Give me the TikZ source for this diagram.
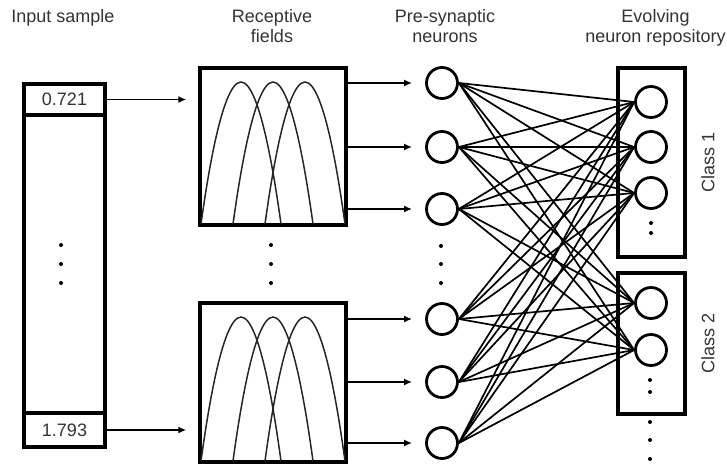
\documentclass[tikz,border=0pt]{standalone}
\usepackage{fontspec}
\setmainfont{Liberation Sans}
\usetikzlibrary{arrows.meta}
\begin{document}
\begin{tikzpicture}[x=1pt,y=-1pt,
  box/.style={draw, line width=3.3pt, rectangle, inner sep=0pt},
  neuron/.style={circle, draw, line width=2.8pt, minimum size=31pt, inner sep=0pt},
  conn/.style={line width=1.7pt},
  arr/.style={line width=1.7pt, -{Latex[length=8pt,width=7pt]}},
  curve/.style={line width=1.5pt, black!85},
  lbl/.style={font=\fontsize{18}{20}\selectfont, text=black!80, align=center, inner sep=0pt},
  num/.style={font=\fontsize{18}{20}\selectfont, text=black!80},
  dotn/.style={circle, fill=black, inner sep=0pt, minimum size=4pt}]
\useasboundingbox (0,0) rectangle (727,464);

% headers
\node[lbl, anchor=north] (h1) at (63,9) {Input sample};
\node[lbl, anchor=north] (h2) at (272,9) {Receptive\\fields};
\node[lbl, anchor=north] (h3) at (445,9) {Pre-synaptic\\neurons};
\node[lbl, anchor=north] (h4) at (655.5,9) {Evolving\\neuron repository};

% input sample
\node[box, minimum width=81pt, minimum height=363pt] (inbox) at (64.5,265.5) {};
\node[box, num, minimum width=81pt, minimum height=31pt] (c1) at (64.5,99.5) {0.721};
\node[box, num, minimum width=81pt, minimum height=34pt] (c2) at (64.5,430) {1.793};
\node[dotn] (id1) at (61,245) {};
\node[dotn] (id2) at (61,264) {};
\node[dotn] (id3) at (61,283) {};

% receptive fields
\node[box, minimum width=146pt, minimum height=157pt] (rf1) at (273,146.5) {};
\node[box, minimum width=146pt, minimum height=159pt] (rf2) at (273,382.5) {};
\foreach \b/\t in {224/82, 461/317}{
  \draw[curve] (201,\b) parabola bend (241,\t) (281,\b);
  \draw[curve] (233,\b) parabola bend (273,\t) (313,\b);
  \draw[curve] (265,\b) parabola bend (305,\t) (345,\b);
}
\node[dotn] (rd1) at (271,245) {};
\node[dotn] (rd2) at (271,264) {};
\node[dotn] (rd3) at (271,283) {};

\draw[arr, shorten >=12pt] (c1.east) -- (c1.east -| rf1.west);
\draw[arr, shorten >=12pt] (c2.east) -- (c2.east -| rf2.west);

% pre-synaptic neurons
\foreach \i/\y in {1/83, 2/147, 3/209, 4/319, 5/382, 6/443}
  \node[neuron] (p\i) at (442,\y) {};
\node[dotn] (pd1) at (441,246) {};
\node[dotn] (pd2) at (441,264) {};
\node[dotn] (pd3) at (441,283) {};

\foreach \i in {1,2,3}
  \draw[arr, shorten >=13pt] (rf1.east |- p\i.west) -- (p\i.west);
\foreach \i in {4,5,6}
  \draw[arr, shorten >=13pt] (rf2.east |- p\i.west) -- (p\i.west);

% repository
\node[box, minimum width=67pt, minimum height=189pt] (cls1) at (651.5,162.5) {};
\node[box, minimum width=67pt, minimum height=141pt] (cls2) at (651.5,343.5) {};
\foreach \i/\y in {1/102, 2/147, 3/193, 4/303, 5/350}
  \node[neuron] (r\i) at (651,\y) {};
\node[dotn] (cd1) at (651,223) {};
\node[dotn] (cd2) at (651,233) {};
\node[dotn] (cd3) at (650,380) {};
\node[dotn] (cd4) at (650,392) {};
\node[dotn] (cd5) at (650,422) {};
\node[dotn] (cd6) at (650,440) {};
\node[dotn] (cd7) at (650,459) {};

\node[lbl, rotate=90] (l1) at (708,162) {Class 1};
\node[lbl, rotate=90] (l2) at (708,343) {Class 2};

% connections
\foreach \s in {1,...,6}
  \foreach \t in {1,...,5}
    \draw[conn] (p\s.east) -- (r\t.west);
\end{tikzpicture}
\end{document}
